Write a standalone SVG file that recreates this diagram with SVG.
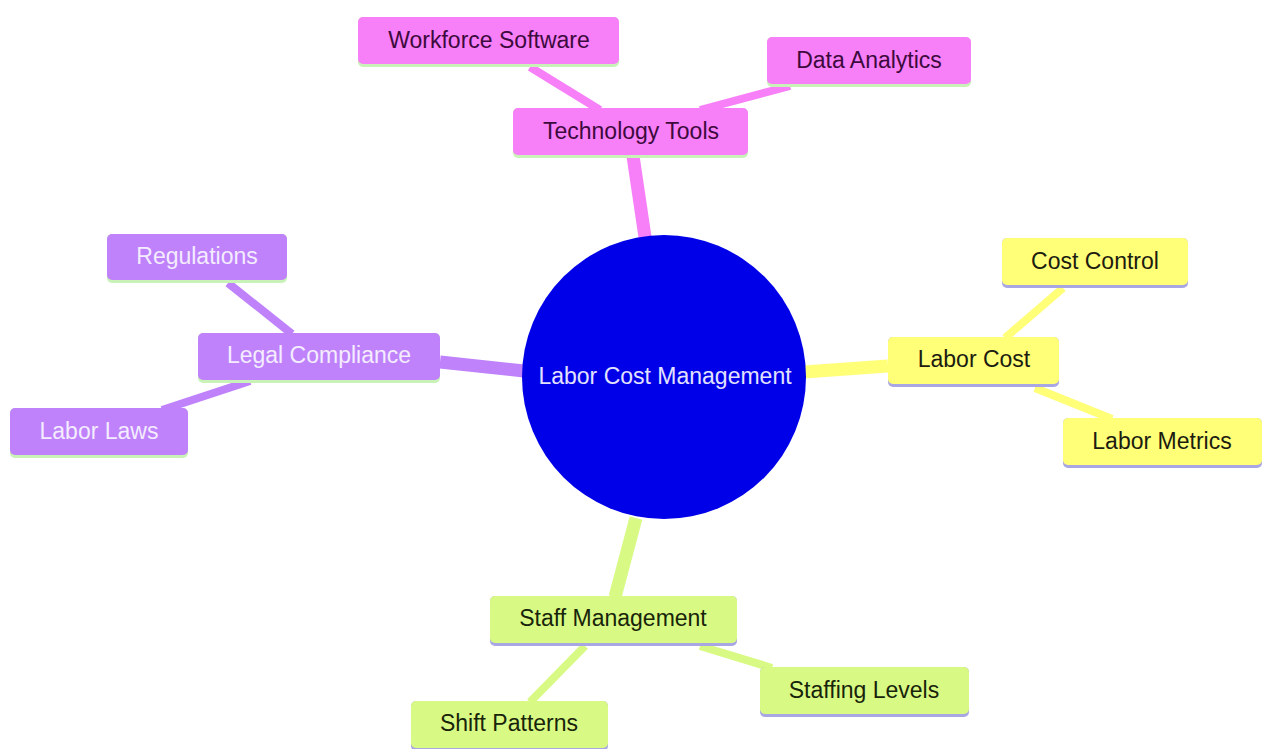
<svg xmlns="http://www.w3.org/2000/svg" width="1264" height="749" viewBox="0 0 1264 749">
<style>
text{font-family:"Liberation Sans",Arial,sans-serif;font-size:23px;text-anchor:middle;dominant-baseline:central}
.e1{fill:none;stroke-width:13;stroke-linecap:butt}
.e2{fill:none;stroke-width:8;stroke-linecap:butt}
.pk{fill:#f77ff7}.pu{fill:#bf82fb}.ye{fill:#ffff78}.gr{fill:#d8fa84}
.spk{stroke:#f77ff7}.spu{stroke:#bf82fb}.sye{stroke:#ffff78}.sgr{stroke:#d8fa84}
.lg{fill:#c9f2b8}.lv{fill:#a9a6e4}
.tpk{fill:#3d0a3d}.tpu{fill:#f4ecff}.tye{fill:#1c1c10}.tgr{fill:#18240a}
</style>
<rect width="1264" height="749" fill="#ffffff"/>
<g id="connectors">
<line class="e1 spk" x1="645" y1="237" x2="633" y2="156"/>
<line class="e1 spu" x1="524" y1="371" x2="440" y2="362"/>
<line class="e1 sye" x1="804" y1="372" x2="888" y2="366"/>
<line class="e1 sgr" x1="636" y1="518" x2="615" y2="597"/>
<line class="e2 spk" x1="530" y1="67" x2="600" y2="110"/>
<line class="e2 spk" x1="790" y1="86" x2="700" y2="110"/>
<line class="e2 spu" x1="228" y1="283" x2="292" y2="334"/>
<line class="e2 spu" x1="162" y1="410" x2="250" y2="381"/>
<line class="e2 sye" x1="1063" y1="288" x2="1005" y2="338"/>
<line class="e2 sye" x1="1035" y1="388" x2="1112" y2="419"/>
<line class="e2 sgr" x1="530" y1="702" x2="585" y2="646"/>
<line class="e2 sgr" x1="700" y1="646" x2="772" y2="668"/>
</g>
<g id="root">
<circle cx="664" cy="377" r="142" fill="#0000e8"/>
<text x="665" y="376" fill="#e2e2ff" font-size="24">Labor Cost Management</text>
</g>
<g id="tech">
<rect class="lg" x="513" y="108" width="235" height="50" rx="5"/>
<rect class="pk" x="513" y="108" width="235" height="47" rx="5"/>
<text class="tpk" x="631" y="131">Technology Tools</text>
</g>
<g id="workforce">
<rect class="lg" x="358" y="17" width="261" height="50" rx="5"/>
<rect class="pk" x="358" y="17" width="261" height="47" rx="5"/>
<text class="tpk" x="489" y="40">Workforce Software</text>
</g>
<g id="analytics">
<rect class="lg" x="767" y="37" width="204" height="50" rx="5"/>
<rect class="pk" x="767" y="37" width="204" height="47" rx="5"/>
<text class="tpk" x="869" y="60">Data Analytics</text>
</g>
<g id="legal">
<rect class="lg" x="198" y="333" width="242" height="50" rx="5"/>
<rect class="pu" x="198" y="333" width="242" height="47" rx="5"/>
<text class="tpu" x="319" y="355">Legal Compliance</text>
</g>
<g id="regulations">
<rect class="lg" x="107" y="234" width="180" height="49" rx="5"/>
<rect class="pu" x="107" y="234" width="180" height="46" rx="5"/>
<text class="tpu" x="197" y="256">Regulations</text>
</g>
<g id="laws">
<rect class="lg" x="10" y="408" width="178" height="50" rx="5"/>
<rect class="pu" x="10" y="408" width="178" height="47" rx="5"/>
<text class="tpu" x="99" y="431">Labor Laws</text>
</g>
<g id="laborcost">
<rect class="lv" x="888" y="337" width="171" height="50" rx="5"/>
<rect class="ye" x="888" y="337" width="171" height="47" rx="5"/>
<text class="tye" x="974" y="359">Labor Cost</text>
</g>
<g id="costcontrol">
<rect class="lv" x="1002" y="238" width="186" height="50" rx="5"/>
<rect class="ye" x="1002" y="238" width="186" height="47" rx="5"/>
<text class="tye" x="1095" y="261">Cost Control</text>
</g>
<g id="metrics">
<rect class="lv" x="1063" y="418" width="199" height="50" rx="5"/>
<rect class="ye" x="1063" y="418" width="199" height="47" rx="5"/>
<text class="tye" x="1162" y="441">Labor Metrics</text>
</g>
<g id="staff">
<rect class="lv" x="490" y="596" width="247" height="50" rx="5"/>
<rect class="gr" x="490" y="596" width="247" height="47" rx="5"/>
<text class="tgr" x="613" y="618">Staff Management</text>
</g>
<g id="shift">
<rect class="lv" x="411" y="701" width="197" height="50" rx="5"/>
<rect class="gr" x="411" y="701" width="197" height="47" rx="5"/>
<text class="tgr" x="509" y="723">Shift Patterns</text>
</g>
<g id="staffing">
<rect class="lv" x="760" y="667" width="209" height="50" rx="5"/>
<rect class="gr" x="760" y="667" width="209" height="47" rx="5"/>
<text class="tgr" x="864" y="690">Staffing Levels</text>
</g>
</svg>
